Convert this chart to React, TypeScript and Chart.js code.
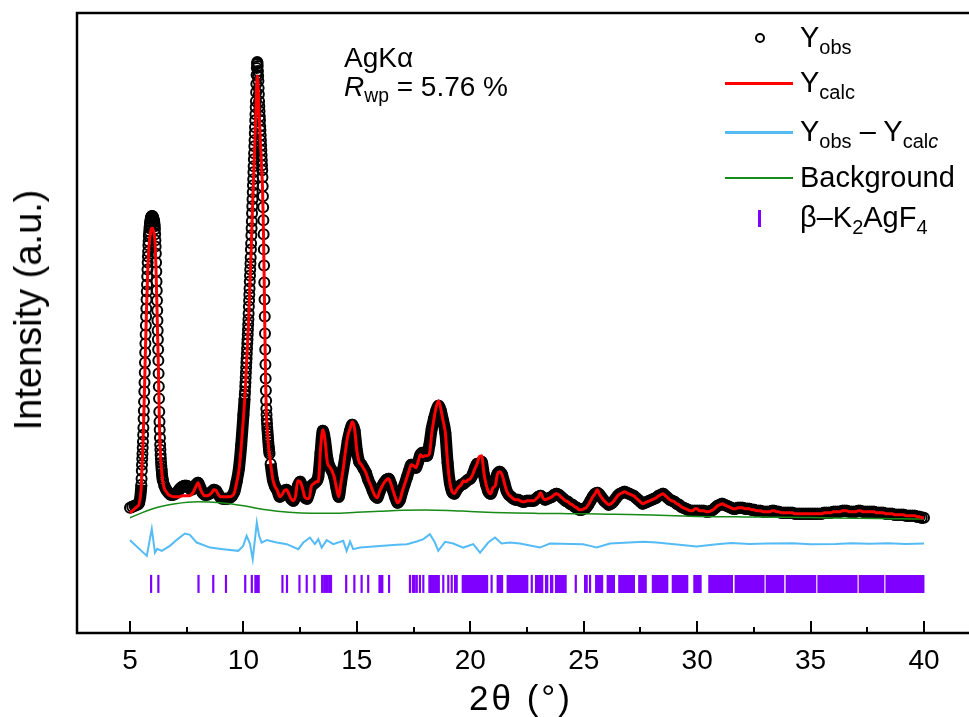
import React, { useEffect, useRef } from "react";
import { Chart, registerables } from "chart.js";

Chart.register(...registerables);

// ---------- DATA ----------
// 2θ measurement grid, as segments [start, end, step] (denser across the two strong peaks)
const thetaSegments: [number, number, number][] = [
  [5.0, 5.4, 0.1],
  [5.5, 6.45, 0.01],
  [6.5, 10.0, 0.1],
  [10.05, 11.15, 0.01],
  [11.2, 40.0, 0.1],
];

// observed intensity (a.u.), one array per grid segment
const obsA = [125, 126, 127, 128, 130];
const obsB = [
  148, 154, 162, 168, 174, 179, 185, 191, 198, 205,
  214, 222, 231, 241, 250, 260, 270, 280, 289, 298,
  307, 316, 324, 333, 341, 348, 356, 363, 370, 376,
  381, 387, 391, 396, 398, 401, 404, 406, 408, 410,
  411, 413, 414, 415, 415, 416, 416, 416, 416, 416,
  416, 415, 414, 414, 413, 412, 411, 410, 408, 406,
  403, 398, 392, 386, 379, 370, 361, 351, 342, 332,
  322, 312, 302, 293, 283, 272, 259, 246, 234, 221,
  211, 203, 195, 188, 183, 178, 174, 170, 167, 164,
  162, 159, 157, 155, 153, 152,
];
const obsC = [
  148, 143, 140, 138, 138, 139, 141, 144, 146, 147,
  147, 145, 143, 144, 148, 150, 145, 140, 138, 138,
  139, 141, 143, 142, 138, 135, 134, 134, 134, 135,
  137, 141, 151, 164, 187, 218,
];
const obsD = [
  234, 238, 241, 246, 250, 255, 260, 265, 270, 274,
  279, 284, 289, 293, 298, 303, 308, 313, 319, 326,
  332, 338, 344, 351, 357, 363, 369, 375, 383, 389,
  397, 404, 411, 419, 426, 433, 440, 447, 453, 460,
  466, 473, 479, 486, 492, 499, 505, 512, 518, 525,
  531, 540, 548, 557, 564, 568, 570, 569, 566, 561,
  556, 551, 544, 538, 531, 526, 521, 516, 512, 506,
  502, 497, 492, 487, 482, 477, 472, 467, 462, 455,
  446, 436, 425, 412, 398, 383, 367, 350, 333, 316,
  299, 283, 268, 254, 242, 232, 224, 218, 213, 209,
  205, 202, 199, 196, 193, 190, 187, 185, 183, 181,
  179,
];
const obsE = [
  169, 153, 146, 142, 136, 138, 142, 143, 139, 134,
  132, 137, 147, 151, 145, 136, 134, 140, 147, 149,
  151, 156, 180, 202, 192, 174, 166, 162, 156, 145,
  136, 150, 164, 177, 192, 202, 208, 202, 182, 171,
  168, 164, 160, 153, 148, 142, 137, 135, 141, 146,
  150, 153, 154, 149, 142, 135, 130, 133, 141, 148,
  155, 162, 168, 167, 165, 171, 178, 180, 177, 177,
  188, 204, 214, 222, 227, 222, 212, 200, 170, 150,
  141, 139, 143, 146, 148, 149, 151, 153, 154, 158,
  164, 169, 169, 171, 158, 148, 141, 139, 145, 153,
  159, 161, 158, 150, 142, 138, 136, 134, 133, 133,
  132, 131, 131, 132, 132, 132, 132, 134, 136, 137,
  135, 133, 134, 135, 136, 138, 139, 138, 136, 134,
  132, 131, 129, 128, 126, 125, 123, 123, 124, 125,
  128, 132, 136, 139, 140, 138, 135, 132, 130, 128,
  129, 131, 134, 137, 139, 140, 141, 140, 139, 138,
  137, 135, 133, 131, 129, 130, 131, 132, 133, 134,
  135, 137, 138, 139, 137, 135, 133, 132, 131, 129,
  128, 126, 125, 124, 123, 122, 122, 122, 122, 122,
  122, 122, 121, 121, 122, 123, 125, 127, 128, 129,
  128, 127, 126, 125, 124, 124, 125, 125, 125, 124,
  124, 124, 123, 123, 122, 122, 122, 121, 121, 121,
  121, 122, 122, 121, 121, 120, 120, 120, 120, 120,
  120, 119, 119, 119, 119, 119, 119, 119, 119, 119,
  119, 119, 119, 119, 120, 120, 120, 120, 121, 121,
  121, 121, 122, 122, 122, 121, 121, 121, 121, 122,
  122, 121, 121, 121, 121, 121, 121, 120, 120, 120,
  120, 119, 119, 119, 119, 118, 118, 118, 118, 118,
  117, 117, 117, 117, 117, 116, 116, 115, 115,
];

// calculated intensity (a.u.) on the same grid
const calcA = [120, 122, 124, 126, 129];
const calcB = [
  147, 153, 161, 166, 172, 177, 183, 188, 195, 202,
  210, 218, 227, 236, 245, 254, 264, 274, 282, 291,
  299, 308, 316, 324, 332, 339, 346, 353, 360, 366,
  370, 376, 380, 385, 387, 389, 392, 394, 396, 398,
  399, 401, 402, 403, 403, 404, 404, 404, 404, 404,
  404, 403, 402, 402, 401, 400, 399, 398, 396, 394,
  391, 387, 381, 375, 368, 360, 351, 342, 333, 324,
  314, 304, 295, 286, 277, 266, 254, 241, 230, 217,
  208, 200, 192, 186, 181, 176, 172, 169, 166, 163,
  161, 158, 156, 154, 152, 151,
];
const calcC = [
  145, 141, 138, 137, 136, 136, 136, 136, 137, 137,
  137, 137, 138, 141, 146, 150, 144, 139, 137, 137,
  138, 140, 143, 142, 138, 136, 136, 136, 136, 136,
  137, 140, 150, 162, 185, 215,
];
const calcD = [
  231, 235, 238, 243, 246, 251, 256, 261, 266, 270,
  274, 279, 284, 288, 293, 298, 302, 307, 313, 320,
  326, 332, 337, 344, 350, 356, 362, 367, 375, 381,
  389, 395, 402, 410, 417, 424, 430, 437, 443, 450,
  455, 462, 468, 475, 481, 487, 493, 500, 506, 513,
  518, 527, 535, 544, 550, 554, 556, 555, 552, 547,
  543, 538, 531, 525, 518, 514, 509, 504, 500, 494,
  490, 485, 481, 476, 471, 466, 461, 456, 452, 445,
  436, 426, 416, 403, 390, 375, 360, 343, 327, 310,
  294, 278, 264, 250, 239, 229, 221, 215, 211, 207,
  203, 200, 197, 194, 191, 188, 185, 183, 181, 180,
  178,
];
const calcE = [
  169, 153, 146, 142, 136, 138, 142, 143, 139, 134,
  132, 137, 152, 151, 145, 136, 134, 135, 147, 149,
  151, 151, 184, 203, 192, 170, 166, 162, 156, 145,
  136, 150, 164, 182, 197, 204, 211, 204, 182, 171,
  168, 164, 160, 153, 148, 142, 137, 135, 141, 146,
  150, 153, 154, 149, 142, 135, 130, 133, 141, 148,
  155, 162, 168, 167, 165, 171, 178, 176, 177, 177,
  179, 199, 214, 226, 232, 224, 212, 200, 170, 150,
  141, 139, 143, 146, 148, 152, 151, 153, 154, 158,
  164, 169, 176, 177, 160, 148, 141, 139, 145, 147,
  159, 161, 158, 150, 142, 138, 136, 134, 133, 133,
  132, 131, 131, 132, 132, 132, 132, 134, 136, 140,
  135, 133, 134, 135, 136, 138, 139, 138, 136, 134,
  132, 131, 129, 128, 126, 125, 123, 123, 124, 125,
  128, 132, 136, 139, 143, 138, 135, 132, 130, 128,
  129, 131, 134, 137, 139, 140, 141, 140, 139, 138,
  137, 135, 133, 131, 129, 130, 131, 132, 133, 134,
  135, 137, 138, 139, 137, 135, 133, 132, 131, 129,
  128, 126, 125, 124, 123, 122, 122, 124, 124, 122,
  122, 122, 121, 121, 122, 123, 125, 127, 128, 129,
  128, 127, 126, 125, 124, 124, 125, 125, 125, 124,
  124, 124, 123, 123, 122, 122, 122, 121, 121, 121,
  121, 122, 122, 121, 121, 120, 120, 120, 120, 120,
  120, 119, 119, 119, 119, 119, 119, 119, 119, 119,
  119, 119, 119, 119, 120, 120, 120, 120, 121, 121,
  121, 121, 122, 122, 122, 121, 121, 121, 121, 122,
  122, 121, 121, 121, 121, 121, 121, 120, 120, 120,
  120, 119, 119, 119, 119, 118, 118, 118, 118, 118,
  117, 117, 117, 117, 117, 116, 116, 115, 115,
];

// background
const bgTheta = [
  5, 6, 7, 8, 9, 10, 11, 12, 13, 14, 15, 16, 17, 18, 19, 20, 21, 22,
  23, 24, 25, 26, 27, 28, 29, 30, 31, 32, 33, 34, 35, 36, 37, 38, 39, 40,
];
const bgValue = [
  115, 124, 129, 131, 130, 127, 123, 120.5, 119.5, 119.5, 120.5, 121.5,
  122.5, 122.8, 122.4, 121.3, 120.3, 119.7, 119.4, 119.2, 119, 118.6,
  118.2, 117.7, 117.1, 116.4, 116.1, 115.9, 115.7, 115.5, 115.2, 114.9,
  114.6, 114.3, 114, 113.7,
];

// difference curve Yobs - Ycalc (shifted)
const diffTheta = [
  5.0, 5.74, 5.96, 6.1, 6.2, 6.4, 6.76, 7.06, 7.42, 7.64, 7.94, 8.53, 9.11,
  9.77, 9.99, 10.14, 10.29, 10.41, 10.59, 10.69, 10.8, 11.03, 11.47, 11.91,
  12.42, 12.64, 12.93, 13.15, 13.3, 13.45, 13.67, 13.96, 14.4, 14.55, 14.7,
  14.84, 15.14, 15.58, 16.17, 16.76, 17.2, 17.64, 17.93, 18.22, 18.44, 18.59,
  18.89, 19.25, 19.69, 20.13, 20.43, 20.79, 21.09, 21.38, 21.75, 22.19,
  23.07, 23.51, 24.97, 25.28, 25.57, 26.16, 27.63, 28.22, 29.98, 30.86,
  31.5, 32.3, 33.06, 34.2, 35.0, 36.1, 36.8, 37.6, 38.4, 39.2, 40.0,
];
const diffValue = [
  92.7, 77, 104, 80.3, 84, 82, 87, 93, 99.3, 98, 90.3, 85.3, 83.7,
  82, 87, 97, 89, 73.7, 110.3, 97, 90.3, 92.7, 90.3, 88.7,
  83.7, 90.3, 95.3, 88.7, 93.7, 85.3, 92.7, 88.7, 92, 82, 91.3,
  83.7, 85.3, 86, 87, 88, 88.7, 91.3, 93.7, 98.7, 90.3, 82,
  91, 89.3, 85.3, 88.7, 80.3, 90.3, 95.3, 89.3, 90.3, 89.3,
  85.3, 89.3, 88.7, 87, 85.3, 89.3, 91, 90.3, 86.3, 88.7,
  89.8, 88.9, 89.3, 89.6, 88.5, 88.8, 89.7, 89.0, 89.6, 88.9, 89.3,
];

// β-K2AgF4 reflection positions (2θ): resolved single lines, and unresolved bands
const hklLines = [
  5.93, 6.25, 8.02, 8.67, 9.23, 10.08, 10.37, 11.72, 11.92, 12.47, 12.79,
  13.13, 13.47, 13.56, 13.64, 13.72, 13.8, 13.86, 14.53, 14.89, 15.21, 15.5,
  16.42, 17.34, 17.47, 17.55, 17.64, 17.78, 17.93, 18.81, 19.03, 19.18,
  19.33, 19.4, 20.94, 22.71, 24.65, 25.06, 25.13, 25.28,
];
const hklBands: [number, number][] = [
  [10.48, 10.72], [15.95, 16.17], [18.15, 18.66], [19.62, 20.79],
  [21.16, 21.45], [21.6, 22.56], [22.85, 23.22], [23.29, 23.44],
  [23.51, 23.66], [23.73, 24.25], [25.5, 25.86], [26.01, 26.38],
  [26.52, 27.26], [27.4, 27.78], [28.0, 28.73], [28.88, 29.61],
  [29.83, 30.2], [30.49, 31.58], [31.65, 32.97], [33.02, 33.84],
  [33.9, 35.25], [35.3, 37.07], [37.12, 38.25], [38.3, 40.02],
];
const hklOffset = 49;

const xTickLabels = [5, 10, 15, 20, 25, 30, 35, 40];
const xMinorTicks = [7.5, 12.5, 17.5, 22.5, 27.5, 32.5, 37.5];

// ---------- STYLE ----------
const FONT = "'Liberation Sans', Arial, Helvetica, sans-serif";
const RED = "#ff0000";
const BLUE = "#55bbf5";
const GREEN = "#178a17";
const VIOLET = "#7f00ff";

function buildTheta(segs: [number, number, number][]) {
  const out: number[] = [];
  for (const [a, b, s] of segs) {
    const n = Math.round((b - a) / s);
    for (let i = 0; i <= n; i++) out.push(+(a + i * s).toFixed(3));
  }
  return out;
}

const framePlugin = {
  id: "frameTicks",
  afterDraw(chart: any) {
    const { ctx, chartArea } = chart;
    const { left, top, right, bottom } = chartArea;
    const x = chart.scales.x;
    ctx.save();
    ctx.strokeStyle = "#000";
    ctx.lineWidth = 2.5;
    ctx.beginPath();
    ctx.moveTo(left, bottom);
    ctx.lineTo(left, top);
    ctx.lineTo(right, top);
    ctx.lineTo(right, bottom);
    ctx.closePath();
    ctx.stroke();
    ctx.lineWidth = 2;
    ctx.beginPath();
    for (const v of xTickLabels) {
      const px = Math.round(x.getPixelForValue(v));
      ctx.moveTo(px, bottom);
      ctx.lineTo(px, bottom - 12);
    }
    for (const v of xMinorTicks) {
      const px = Math.round(x.getPixelForValue(v));
      ctx.moveTo(px, bottom);
      ctx.lineTo(px, bottom - 6);
    }
    ctx.stroke();
    ctx.restore();
  },
};

function Txt(props: { left: number; baseline: number; size: number; children: any }) {
  const { left, baseline, size, children } = props;
  return (
    <div
      style={{
        position: "absolute",
        left,
        top: baseline - 0.8465 * size,
        fontSize: size,
        lineHeight: 1,
        fontFamily: FONT,
        color: "#000",
        whiteSpace: "nowrap",
      }}
    >
      {children}
    </div>
  );
}

const Sub = ({ children }: { children: any }) => (
  <span style={{ fontSize: "0.69em", position: "relative", top: "0.32em" }}>{children}</span>
);

export default function App() {
  const ref = useRef<HTMLCanvasElement | null>(null);

  useEffect(() => {
    const theta = buildTheta(thetaSegments);
    const yObs = [...obsA, ...obsB, ...obsC, ...obsD, ...obsE];
    const yCalc = [...calcA, ...calcB, ...calcC, ...calcD, ...calcE];
    const obsPts = theta.map((x, i) => ({ x, y: yObs[i] }));
    const calcPts = theta.map((x, i) => ({ x, y: yCalc[i] }));
    const bgPts = bgTheta.map((x, i) => ({ x, y: bgValue[i] }));
    const diffPts = diffTheta.map((x, i) => ({ x, y: diffValue[i] }));
    const hklPts = hklLines.map((x) => ({ x, y: hklOffset }));
    const bandPts: any[] = [];
    for (const [a, b] of hklBands) {
      bandPts.push({ x: a, y: hklOffset }, { x: b, y: hklOffset }, { x: b, y: null });
    }

    const chart = new Chart(ref.current as HTMLCanvasElement, {
      type: "line",
      data: {
        datasets: [
          {
            label: "Ycalc",
            data: calcPts,
            borderColor: RED,
            borderWidth: 3,
            pointRadius: 0,
            cubicInterpolationMode: "monotone",
          },
          {
            label: "Background",
            data: bgPts,
            borderColor: GREEN,
            borderWidth: 1.5,
            pointRadius: 0,
            cubicInterpolationMode: "monotone",
          },
          {
            label: "Yobs",
            data: obsPts,
            borderColor: "#000",
            borderWidth: 12,
            pointRadius: 5,
            pointBorderWidth: 2,
            pointBorderColor: "#000",
            pointBackgroundColor: "rgba(0,0,0,0)",
            pointStyle: "circle",
            cubicInterpolationMode: "monotone",
            segment: {
              borderColor: (c: any) =>
                c.p1.parsed.x - c.p0.parsed.x < 0.05 ? "rgba(0,0,0,0)" : "#000",
            },
          } as any,
          {
            label: "Yobs-Ycalc",
            data: diffPts,
            borderColor: BLUE,
            borderWidth: 2,
            pointRadius: 0,
          },
          {
            label: "hkl",
            data: hklPts,
            showLine: false,
            pointStyle: "line",
            rotation: 90,
            pointRadius: 9,
            pointBorderWidth: 2.2,
            pointBorderColor: VIOLET,
            borderColor: VIOLET,
          } as any,
          {
            label: "hklBands",
            data: bandPts,
            borderColor: VIOLET,
            borderWidth: 18,
            borderCapStyle: "butt",
            pointRadius: 0,
            spanGaps: false,
          } as any,
        ],
      },
      options: {
        animation: false,
        responsive: false,
        maintainAspectRatio: false,
        events: [],
        layout: { padding: { left: 77, top: 13, right: 18, bottom: 36.4 } },
        plugins: { legend: { display: false }, tooltip: { enabled: false } },
        scales: {
          x: {
            type: "linear",
            min: 2.6637,
            max: 42.1157,
            grid: { display: false },
            border: { display: false },
            afterBuildTicks: (s: any) => {
              s.ticks = xTickLabels.map((v) => ({ value: v }));
            },
            ticks: {
              font: { family: FONT, size: 28 },
              color: "#000",
              padding: 3,
              maxRotation: 0,
              autoSkip: false,
              callback: (v: any) => String(v),
            },
          },
          y: { type: "linear", min: 0, max: 619, display: false },
        },
      },
      plugins: [framePlugin],
    });
    return () => chart.destroy();
  }, []);

  return (
    <div
      style={{
        position: "absolute",
        left: 0,
        top: 0,
        width: 969,
        height: 717,
        overflow: "hidden",
        background: "#fff",
      }}
    >
      <canvas ref={ref} width={990} height={717} style={{ position: "absolute", left: 0, top: 0, width: 990, height: 717 }} />

      {/* axis titles */}
      <div
        style={{
          position: "absolute",
          left: 28,
          top: 310,
          transform: "translate(-50%,-50%) rotate(-90deg)",
          fontSize: 38,
          lineHeight: 1,
          fontFamily: FONT,
          whiteSpace: "nowrap",
          color: "#000",
        }}
      >
        Intensity (a.u.)
      </div>
      <div
        style={{
          position: "absolute",
          left: 521,
          top: 697,
          transform: "translate(-50%,-50%)",
          fontSize: 35,
          letterSpacing: 3,
          lineHeight: 1,
          fontFamily: FONT,
          whiteSpace: "nowrap",
          color: "#000",
        }}
      >
        2θ (°)
      </div>

      {/* annotation */}
      <Txt left={344} baseline={68} size={28}>AgKα</Txt>
      <Txt left={344} baseline={97} size={28}>
        <i>R</i>
        <Sub>wp</Sub> = 5.76 %
      </Txt>

      {/* legend symbols */}
      <div
        style={{
          position: "absolute",
          left: 755,
          top: 33,
          width: 10,
          height: 10,
          border: "2px solid #000",
          borderRadius: "50%",
          boxSizing: "border-box",
        }}
      />
      <div style={{ position: "absolute", left: 725, top: 81.5, width: 68, height: 3, background: RED }} />
      <div style={{ position: "absolute", left: 725, top: 131, width: 68, height: 2.5, background: BLUE }} />
      <div style={{ position: "absolute", left: 725, top: 177, width: 68, height: 1.5, background: GREEN }} />
      <div style={{ position: "absolute", left: 758, top: 210, width: 2.5, height: 17, background: VIOLET }} />

      {/* legend labels */}
      <Txt left={800} baseline={48} size={29}>
        Y<Sub>obs</Sub>
      </Txt>
      <Txt left={800} baseline={93} size={29}>
        Y<Sub>calc</Sub>
      </Txt>
      <Txt left={800} baseline={142} size={29}>
        Y<Sub>obs</Sub> – Y<Sub>cal<i>c</i></Sub>
      </Txt>
      <Txt left={800} baseline={188} size={29}>Background</Txt>
      <Txt left={800} baseline={228} size={29}>
        β–K<Sub>2</Sub>AgF<Sub>4</Sub>
      </Txt>
    </div>
  );
}
